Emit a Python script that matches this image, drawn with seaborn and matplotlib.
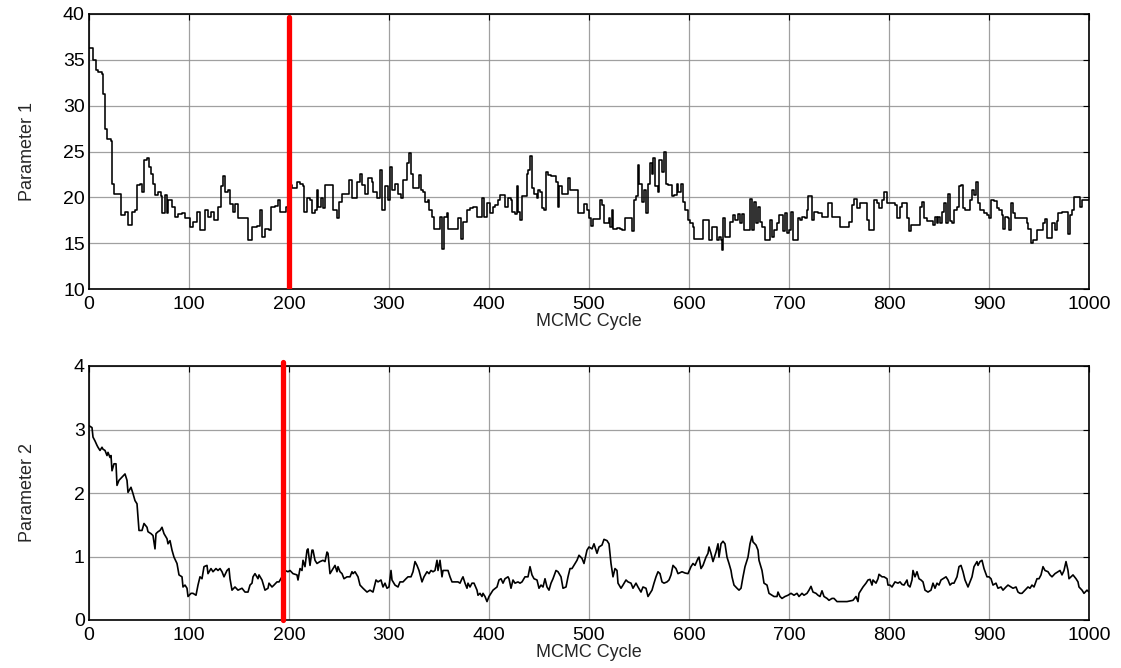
import numpy as np
import pandas as pd
import matplotlib
matplotlib.use("Agg")
import matplotlib.pyplot as plt
import seaborn as sns

# ---------------- data ----------------
cycle1 = [0, 3, 4, 7, 9, 13, 14, 16, 18, 22, 23, 25, 31, 32, 36, 39, 43, 46, 48, 51, 53, 55, 58, 60, 62, 64, 66, 69,
          72, 73, 76, 78, 79, 83, 86, 89, 93, 96, 101, 104, 108, 111, 114, 116, 119, 122, 125, 129, 132, 134, 136,
          139, 141, 144, 146, 149, 153, 158, 159, 163, 168, 171, 173, 176, 180, 182, 186, 189, 191, 195, 197, 200,
          203, 208, 211, 214, 215, 218, 221, 223, 226, 228, 229, 232, 234, 236, 243, 244, 248, 250, 253, 258, 260,
          263, 266, 268, 271, 273, 276, 279, 283, 284, 288, 291, 293, 296, 299, 301, 303, 306, 309, 312, 314, 318,
          320, 322, 324, 329, 330, 332, 334, 336, 339, 340, 343, 345, 349, 351, 353, 355, 358, 359, 366, 369, 372,
          374, 378, 381, 384, 388, 391, 393, 395, 398, 401, 404, 406, 409, 411, 414, 416, 419, 422, 423, 426, 428,
          429, 431, 433, 436, 438, 439, 441, 443, 445, 448, 449, 451, 453, 455, 457, 459, 462, 464, 467, 469, 470,
          473, 478, 479, 481, 486, 489, 493, 495, 498, 500, 502, 504, 509, 511, 513, 515, 519, 520, 521, 523, 524,
          528, 531, 533, 535, 536, 541, 543, 545, 547, 549, 550, 552, 553, 555, 557, 559, 561, 563, 564, 566, 569,
          570, 572, 573, 575, 577, 579, 581, 583, 585, 588, 589, 592, 594, 596, 599, 601, 604, 605, 613, 614, 619,
          620, 623, 626, 628, 630, 632, 633, 634, 636, 639, 641, 644, 646, 649, 651, 653, 655, 659, 661, 663, 665,
          667, 669, 671, 673, 676, 679, 681, 683, 685, 688, 690, 693, 694, 696, 698, 700, 702, 704, 706, 709, 711,
          713, 716, 718, 719, 721, 723, 725, 729, 733, 738, 739, 742, 743, 748, 751, 758, 760, 763, 765, 768, 771,
          774, 778, 780, 784, 785, 788, 790, 793, 795, 798, 801, 806, 808, 811, 813, 815, 818, 820, 822, 829, 831,
          833, 835, 838, 843, 844, 846, 848, 849, 851, 853, 855, 857, 859, 861, 863, 865, 868, 870, 872, 874, 876,
          879, 881, 883, 885, 887, 889, 891, 893, 895, 898, 900, 902, 905, 908, 910, 913, 914, 916, 919, 920, 922,
          924, 926, 933, 938, 939, 942, 944, 948, 951, 954, 956, 958, 961, 963, 966, 968, 969, 973, 978, 979, 981,
          983, 985, 989, 991, 993, 1000]
param1 = [36.3, 36.3, 35.0, 33.9, 33.7, 33.5, 31.3, 27.5, 26.4, 26.1, 21.5, 20.4, 20.4, 18.1, 18.4, 17.0, 18.4, 18.6,
          21.3, 21.5, 20.6, 24.1, 24.3, 23.3, 22.6, 21.5, 20.3, 20.6, 20.1, 18.3, 20.3, 18.3, 19.7, 19.0, 17.9, 18.2,
          18.3, 17.7, 16.8, 17.3, 18.4, 16.4, 16.4, 18.6, 17.9, 18.4, 17.5, 19.0, 21.2, 22.3, 20.6, 20.8, 19.3, 18.4,
          19.3, 17.7, 17.7, 17.7, 15.3, 16.8, 16.9, 18.6, 15.7, 16.6, 16.4, 19.0, 19.1, 19.7, 18.4, 18.4, 19.0, 21.3,
          21.0, 21.7, 21.5, 21.2, 18.4, 19.9, 19.7, 18.3, 18.6, 20.8, 19.0, 19.9, 18.8, 21.3, 21.3, 18.6, 17.7, 19.5,
          20.4, 20.4, 21.9, 19.9, 19.9, 21.7, 22.6, 21.3, 20.4, 22.1, 21.7, 20.6, 19.9, 23.0, 18.6, 21.2, 19.7, 23.3,
          20.8, 21.5, 20.4, 19.9, 21.9, 23.7, 24.8, 22.6, 21.0, 21.0, 22.4, 20.8, 20.6, 19.5, 19.7, 18.6, 17.9, 16.6,
          16.6, 17.9, 14.4, 17.9, 18.3, 16.6, 16.6, 17.7, 15.5, 17.3, 18.6, 18.8, 19.0, 17.9, 17.9, 19.9, 17.9, 19.4,
          18.3, 19.0, 19.2, 19.7, 20.3, 20.3, 19.0, 19.9, 19.7, 18.4, 18.2, 21.2, 18.4, 17.5, 20.1, 20.1, 22.6, 23.0,
          24.5, 21.0, 20.4, 19.9, 20.8, 20.6, 18.8, 18.6, 22.8, 22.4, 22.3, 22.3, 21.7, 19.0, 21.2, 20.4, 20.4, 22.1,
          20.8, 20.8, 18.3, 18.3, 19.3, 18.6, 17.7, 16.9, 17.6, 17.6, 19.7, 19.2, 17.2, 17.2, 17.7, 16.8, 18.6, 16.6,
          16.7, 16.6, 16.4, 16.4, 17.7, 17.7, 16.3, 19.7, 20.1, 23.5, 21.5, 21.5, 19.5, 20.8, 18.3, 21.5, 23.7, 22.6,
          24.3, 21.2, 20.6, 24.1, 24.1, 22.8, 25.0, 21.5, 21.4, 21.4, 20.1, 20.3, 21.5, 20.6, 21.5, 19.5, 18.6, 17.5,
          17.2, 16.8, 15.5, 15.5, 17.5, 17.5, 15.3, 16.8, 16.8, 15.3, 15.7, 15.3, 14.3, 17.7, 15.7, 15.7, 17.3, 18.1,
          17.5, 18.2, 17.2, 18.2, 16.4, 16.4, 19.8, 16.4, 19.5, 17.2, 19.0, 17.3, 16.8, 15.3, 15.3, 17.5, 15.7, 16.4,
          17.2, 18.1, 18.1, 16.3, 18.3, 16.1, 16.4, 18.4, 15.3, 15.3, 17.7, 17.5, 17.9, 17.7, 18.6, 20.2, 20.1, 17.5,
          18.4, 18.3, 17.9, 17.9, 19.4, 19.4, 17.9, 17.9, 16.8, 16.8, 17.3, 19.2, 19.8, 18.8, 19.4, 19.4, 17.5, 16.4,
          16.4, 19.7, 19.4, 18.8, 19.7, 20.6, 19.4, 19.4, 19.2, 17.7, 19.0, 19.4, 19.4, 17.7, 16.3, 17.0, 17.0, 19.0,
          19.5, 17.7, 17.4, 17.4, 17.0, 17.9, 17.2, 17.9, 17.2, 18.4, 19.4, 17.2, 20.4, 17.4, 17.2, 18.6, 19.0, 21.2,
          21.4, 18.8, 18.6, 18.6, 19.7, 20.8, 20.3, 21.7, 19.4, 18.6, 18.6, 18.3, 18.1, 17.7, 19.7, 19.6, 18.8, 18.6,
          18.1, 16.6, 17.9, 17.7, 16.4, 19.4, 18.3, 17.7, 17.7, 17.2, 16.6, 15.0, 15.3, 16.4, 16.4, 17.2, 17.6, 15.6,
          15.6, 17.2, 16.4, 17.4, 18.3, 18.4, 18.4, 16.0, 18.1, 18.6, 20.0, 20.0, 19.0, 19.7, 19.7]

cycle2 = [0, 3, 4, 6, 8, 9, 11, 13, 14, 16, 18, 19, 21, 22, 23, 25, 27, 28, 30, 33, 36, 38, 39, 42, 44, 46, 48, 49,
          50, 53, 55, 58, 59, 62, 64, 66, 67, 69, 71, 73, 75, 78, 79, 81, 83, 85, 88, 90, 93, 94, 96, 98, 99, 102,
          104, 107, 109, 111, 113, 115, 118, 119, 122, 124, 127, 129, 131, 133, 135, 138, 140, 141, 143, 146, 149,
          153, 156, 159, 161, 163, 164, 166, 169, 170, 173, 176, 179, 180, 183, 185, 188, 190, 193, 196, 199, 201,
          204, 208, 209, 211, 213, 214, 216, 218, 219, 221, 223, 224, 226, 228, 231, 234, 236, 238, 239, 241, 244,
          246, 248, 249, 251, 253, 255, 258, 261, 263, 264, 266, 269, 271, 274, 278, 281, 284, 287, 289, 292, 294,
          296, 298, 300, 302, 303, 306, 309, 311, 314, 317, 319, 322, 324, 326, 328, 330, 333, 335, 338, 340, 342,
          344, 346, 348, 349, 351, 353, 354, 357, 359, 361, 363, 367, 369, 371, 373, 374, 376, 378, 379, 381, 383,
          385, 388, 389, 391, 393, 394, 396, 398, 400, 402, 404, 408, 410, 412, 414, 416, 419, 420, 422, 424, 426,
          429, 431, 433, 436, 439, 441, 443, 445, 448, 450, 452, 454, 456, 458, 460, 462, 464, 467, 469, 472, 474,
          477, 479, 481, 483, 486, 488, 490, 493, 495, 498, 500, 503, 505, 508, 510, 513, 515, 518, 520, 522, 524,
          526, 528, 529, 532, 534, 537, 539, 542, 544, 547, 549, 552, 554, 557, 559, 561, 563, 565, 567, 569, 571,
          573, 575, 578, 580, 582, 584, 587, 589, 593, 596, 599, 602, 604, 606, 609, 610, 612, 614, 617, 619, 620,
          622, 624, 627, 629, 630, 632, 634, 636, 638, 640, 642, 643, 645, 648, 650, 652, 654, 656, 659, 661, 663,
          664, 667, 669, 670, 673, 675, 678, 680, 683, 685, 688, 689, 691, 693, 696, 699, 702, 705, 708, 710, 713,
          715, 718, 720, 722, 724, 727, 729, 731, 733, 735, 738, 740, 743, 745, 748, 753, 758, 761, 764, 767, 769,
          770, 772, 774, 777, 779, 781, 783, 784, 787, 789, 790, 793, 795, 798, 799, 801, 803, 806, 809, 811, 813,
          815, 818, 819, 821, 823, 824, 826, 828, 830, 832, 834, 836, 839, 842, 844, 846, 848, 850, 852, 854, 857,
          859, 861, 863, 865, 868, 870, 872, 874, 876, 879, 881, 883, 885, 888, 889, 891, 893, 895, 898, 900, 902,
          904, 907, 909, 912, 914, 917, 919, 922, 924, 927, 929, 931, 933, 936, 939, 941, 943, 945, 948, 950, 952,
          954, 956, 959, 961, 963, 966, 969, 971, 973, 975, 977, 979, 980, 982, 984, 987, 989, 990, 993, 995, 998,
          1000]
param2 = [3.06, 3.03, 2.88, 2.82, 2.75, 2.72, 2.67, 2.72, 2.69, 2.67, 2.59, 2.64, 2.56, 2.59, 2.35, 2.46, 2.46, 2.12,
          2.20, 2.25, 2.30, 2.20, 2.01, 2.09, 1.99, 1.88, 1.83, 1.62, 1.41, 1.41, 1.52, 1.46, 1.39, 1.36, 1.33, 1.12,
          1.36, 1.39, 1.41, 1.46, 1.36, 1.28, 1.20, 1.25, 1.10, 0.99, 0.89, 0.71, 0.68, 0.52, 0.55, 0.50, 0.37, 0.42,
          0.42, 0.39, 0.55, 0.68, 0.65, 0.84, 0.86, 0.73, 0.81, 0.76, 0.81, 0.78, 0.81, 0.76, 0.68, 0.78, 0.81, 0.65,
          0.47, 0.52, 0.47, 0.50, 0.44, 0.44, 0.55, 0.58, 0.68, 0.73, 0.65, 0.71, 0.63, 0.47, 0.50, 0.58, 0.52, 0.55,
          0.60, 0.60, 0.68, 0.78, 0.76, 0.78, 0.73, 0.71, 0.63, 0.81, 0.78, 0.94, 0.84, 1.10, 1.12, 0.86, 1.10, 1.10,
          0.94, 0.89, 0.92, 0.94, 0.92, 1.07, 1.05, 0.73, 0.81, 0.86, 0.76, 0.84, 0.76, 0.73, 0.65, 0.68, 0.68, 0.76,
          0.73, 0.76, 0.68, 0.55, 0.50, 0.44, 0.47, 0.44, 0.63, 0.60, 0.63, 0.52, 0.58, 0.50, 0.52, 0.78, 0.63, 0.55,
          0.52, 0.60, 0.60, 0.65, 0.68, 0.68, 0.76, 0.92, 0.86, 0.78, 0.60, 0.68, 0.76, 0.73, 0.78, 0.76, 0.78, 0.94,
          0.78, 0.94, 0.68, 0.78, 0.78, 0.78, 0.68, 0.60, 0.60, 0.60, 0.58, 0.65, 0.68, 0.58, 0.50, 0.58, 0.52, 0.58,
          0.58, 0.47, 0.39, 0.42, 0.37, 0.42, 0.37, 0.29, 0.37, 0.42, 0.47, 0.52, 0.63, 0.65, 0.58, 0.65, 0.68, 0.65,
          0.50, 0.63, 0.58, 0.60, 0.58, 0.60, 0.68, 0.68, 0.84, 0.71, 0.65, 0.63, 0.50, 0.55, 0.52, 0.65, 0.52, 0.47,
          0.58, 0.65, 0.78, 0.76, 0.68, 0.50, 0.52, 0.68, 0.81, 0.81, 0.89, 0.94, 1.02, 0.97, 0.89, 1.10, 1.15, 1.12,
          1.20, 1.05, 1.15, 1.18, 1.27, 1.25, 1.20, 0.89, 0.68, 0.81, 0.78, 0.58, 0.50, 0.55, 0.63, 0.60, 0.58, 0.50,
          0.58, 0.52, 0.44, 0.52, 0.50, 0.37, 0.42, 0.47, 0.58, 0.68, 0.76, 0.73, 0.60, 0.58, 0.60, 0.63, 0.71, 0.86,
          0.81, 0.73, 0.76, 0.74, 0.73, 0.84, 0.89, 0.86, 0.97, 0.99, 0.81, 0.86, 0.99, 1.05, 1.15, 1.05, 0.92, 1.07,
          1.20, 0.99, 1.20, 1.24, 1.20, 0.99, 0.89, 0.78, 0.68, 0.55, 0.50, 0.47, 0.50, 0.68, 0.84, 0.99, 1.20, 1.32,
          1.23, 1.18, 1.10, 0.94, 0.78, 0.58, 0.55, 0.42, 0.39, 0.37, 0.37, 0.44, 0.37, 0.34, 0.37, 0.39, 0.42, 0.39,
          0.42, 0.37, 0.42, 0.39, 0.42, 0.47, 0.53, 0.44, 0.42, 0.39, 0.37, 0.46, 0.37, 0.34, 0.31, 0.34, 0.34, 0.29,
          0.29, 0.29, 0.30, 0.31, 0.37, 0.29, 0.42, 0.47, 0.52, 0.58, 0.63, 0.64, 0.55, 0.63, 0.58, 0.65, 0.72, 0.68,
          0.68, 0.65, 0.55, 0.55, 0.52, 0.60, 0.58, 0.60, 0.56, 0.55, 0.63, 0.55, 0.52, 0.63, 0.78, 0.68, 0.76, 0.65,
          0.63, 0.60, 0.47, 0.44, 0.47, 0.58, 0.50, 0.58, 0.55, 0.63, 0.65, 0.68, 0.63, 0.55, 0.58, 0.58, 0.68, 0.84,
          0.86, 0.76, 0.63, 0.52, 0.60, 0.68, 0.84, 0.92, 0.86, 0.92, 0.94, 0.81, 0.68, 0.68, 0.65, 0.55, 0.58, 0.50,
          0.52, 0.47, 0.52, 0.55, 0.52, 0.50, 0.52, 0.44, 0.42, 0.42, 0.47, 0.52, 0.50, 0.55, 0.52, 0.65, 0.65, 0.71,
          0.84, 0.78, 0.76, 0.71, 0.68, 0.73, 0.76, 0.78, 0.71, 0.78, 0.92, 0.78, 0.65, 0.68, 0.71, 0.65, 0.60, 0.52,
          0.47, 0.42, 0.47, 0.44]

burnin1 = 200
burnin2 = 194
xticks = list(range(0, 1001, 100))
yticks1 = [10, 15, 20, 25, 30, 35, 40]
yticks2 = [0, 1, 2, 3, 4]
xlabel = "MCMC Cycle"
ylabels = ["Parameter 1", "Parameter 2"]

# ---------------- style ----------------
sns.set_style("white")
plt.rcParams["font.family"] = ["Liberation Sans", "DejaVu Sans"]

W, H = 1121, 668
fig = plt.figure(figsize=(W / 100, H / 100), dpi=100)
ax1 = fig.add_axes([89 / W, (H - 289) / H, 1000 / W, 275 / H])
ax2 = fig.add_axes([89 / W, (H - 620) / H, 1000 / W, 254 / H])

df1 = pd.DataFrame({"cycle": cycle1, "value": param1})
df2 = pd.DataFrame({"cycle": cycle2, "value": param2})

sns.lineplot(data=df1, x="cycle", y="value", ax=ax1, color="black", linewidth=1.15,
             estimator=None, drawstyle="steps-post", zorder=3)
sns.lineplot(data=df2, x="cycle", y="value", ax=ax2, color="black", linewidth=1.2,
             estimator=None, zorder=3)

ax1.axvline(burnin1, ymin=0, ymax=0.99, color="#ff0000", linewidth=3.8, zorder=4)
ax2.axvline(burnin2, ymin=0, ymax=1.015, color="#ff0000", linewidth=3.8, zorder=4, clip_on=False)

for ax, yt, yl in [(ax1, yticks1, ylabels[0]), (ax2, yticks2, ylabels[1])]:
    ax.set_xlim(0, 1000)
    ax.set_ylim(yt[0], yt[-1])
    ax.set_xticks(xticks)
    ax.set_yticks(yt)
    ax.grid(True, color="#909090", linewidth=0.9, alpha=0.85, zorder=0)
    ax.tick_params(direction="in", length=4, width=0.8, top=True, right=True,
                   labelsize=14, colors="black")
    ax.tick_params(axis="x", pad=5)
    ax.tick_params(axis="y", pad=3)
    ax.set_xlabel(xlabel, fontsize=13, labelpad=0)
    ax.set_ylabel(yl, fontsize=13,
                  family=["Liberation Sans Narrow", "Liberation Sans", "DejaVu Sans"])
    ax.yaxis.set_label_coords(-0.053, 0.5)
    for s in ax.spines.values():
        s.set_color("black")
        s.set_linewidth(1.2)
        s.set_visible(True)
    ax.set_axisbelow(True)

fig.savefig("out.png", dpi=100, facecolor="white")
